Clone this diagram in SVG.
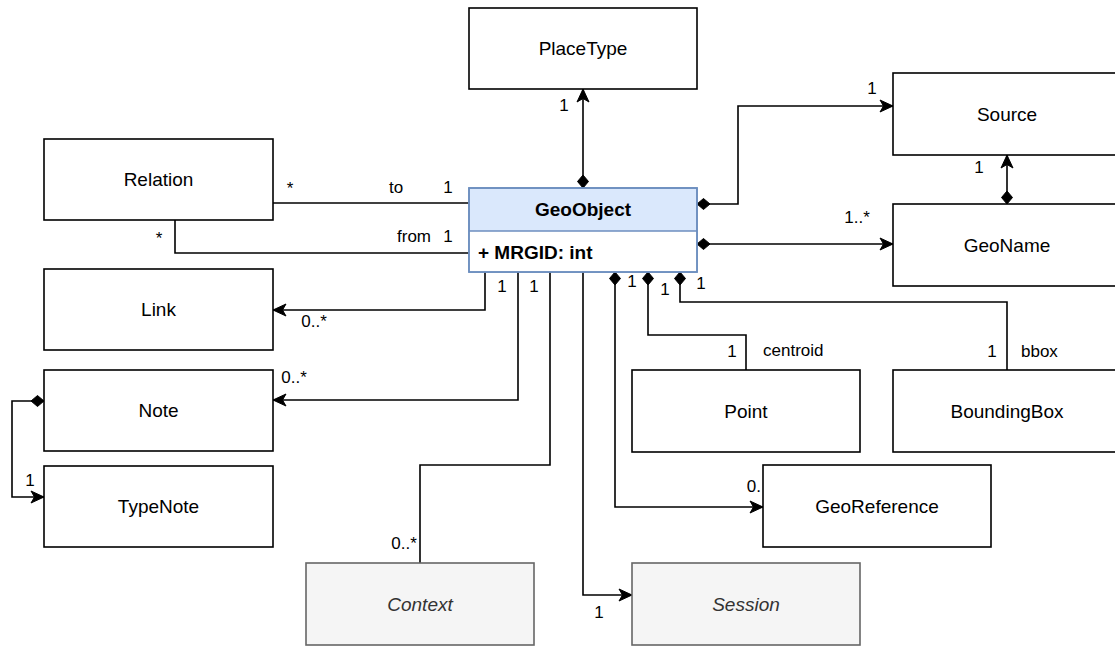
<svg xmlns="http://www.w3.org/2000/svg" width="1115" height="646" viewBox="0 0 1115 646">
<style>
  .box { fill: #ffffff; stroke: #000000; stroke-width: 1.6; }
  .abs { fill: #f5f5f5; stroke: #666666; stroke-width: 1.6; }
  .geo { fill: #dae8fc; stroke: #6c8ebf; stroke-width: 1.6; }
  .lbl { font-family: "Liberation Sans", Arial, sans-serif; font-size: 19px; fill: #000000; text-anchor: middle; }
  .it { font-style: italic; fill: #333333; }
  .bold { font-weight: bold; }
  .edge { fill: none; stroke: #000000; stroke-width: 1.6; }
  .el { font-family: "Liberation Sans", Arial, sans-serif; font-size: 17px; fill: #000000; text-anchor: middle; }
  .start { text-anchor: start; }
  .end { text-anchor: end; }
</style>
<defs>
  <marker id="arrow" markerUnits="userSpaceOnUse" markerWidth="16" markerHeight="16" viewBox="-14 -8 16 16" refX="0" refY="0" orient="auto" overflow="visible">
    <path d="M0,0 L-13,-6 L-9.5,0 L-13,6 Z" fill="#000000" stroke="#000000" stroke-width="1"/>
  </marker>
  <marker id="diamond" markerUnits="userSpaceOnUse" markerWidth="16" markerHeight="16" viewBox="-1 -8 16 16" refX="0" refY="0" orient="auto" overflow="visible">
    <path d="M0,0 L6.5,-5.5 L13,0 L6.5,5.5 Z" fill="#000000" stroke="#000000" stroke-width="1"/>
  </marker>
</defs>

<g id="connectors">
  <path class="edge" d="M583,188 L583,89" marker-start="url(#diamond)" marker-end="url(#arrow)"/>
  <path class="edge" d="M469,203 L273,203"/>
  <path class="edge" d="M469,253 L175,253 L175,220"/>
  <path class="edge" d="M485,272 L485,310 L273,310" marker-end="url(#arrow)"/>
  <path class="edge" d="M518,272 L518,400 L273,400" marker-end="url(#arrow)"/>
  <path class="edge" d="M550,272 L550,465 L420,465 L420,563"/>
  <path class="edge" d="M583,272 L583,595 L632,595" marker-end="url(#arrow)"/>
  <path class="edge" d="M615,272 L615,507 L763,507" marker-start="url(#diamond)" marker-end="url(#arrow)"/>
  <path class="edge" d="M648,272 L648,335 L746,335 L746,370" marker-start="url(#diamond)"/>
  <path class="edge" d="M680,272 L680,302 L1007,302 L1007,370" marker-start="url(#diamond)"/>
  <path class="edge" d="M697,204 L738,204 L738,106 L893,106" marker-start="url(#diamond)" marker-end="url(#arrow)"/>
  <path class="edge" d="M697,244 L893,244" marker-start="url(#diamond)" marker-end="url(#arrow)"/>
  <path class="edge" d="M1007,204 L1007,155" marker-start="url(#diamond)" marker-end="url(#arrow)"/>
  <path class="edge" d="M44,401 L12,401 L12,497 L44,497" marker-start="url(#diamond)" marker-end="url(#arrow)"/>

  <text class="el" x="564" y="111">1</text>
  <text class="el" x="290" y="194">*</text>
  <text class="el" x="396" y="193">to</text>
  <text class="el" x="448" y="193">1</text>
  <text class="el" x="159" y="244">*</text>
  <text class="el" x="414" y="242">from</text>
  <text class="el" x="448" y="242">1</text>
  <text class="el" x="502" y="292">1</text>
  <text class="el" x="314" y="327">0..*</text>
  <text class="el" x="534" y="292">1</text>
  <text class="el" x="294" y="383">0..*</text>
  <text class="el" x="404" y="549">0..*</text>
  <text class="el" x="599" y="618">1</text>
  <text class="el" x="632" y="287">1</text>
  <text class="el" x="665" y="295">1</text>
  <text class="el" x="701" y="289">1</text>
  <text class="el end" x="761" y="492">0.</text>
  <text class="el" x="732" y="357">1</text>
  <text class="el start" x="763" y="356">centroid</text>
  <text class="el" x="992" y="357">1</text>
  <text class="el start" x="1021" y="357">bbox</text>
  <text class="el" x="872" y="94">1</text>
  <text class="el" x="857" y="223">1..*</text>
  <text class="el" x="979" y="173">1</text>
  <text class="el" x="30" y="486">1</text>
</g>

<g id="PlaceType"><rect class="box" x="469" y="8" width="228" height="81"/><text class="lbl" x="583" y="55">PlaceType</text></g>
<g id="GeoObject">
  <rect class="geo" x="469" y="188" width="228" height="84"/>
  <rect x="469.8" y="231" width="226.4" height="40.2" fill="#ffffff"/>
  <line x1="469" y1="231" x2="697" y2="231" stroke="#6c8ebf" stroke-width="1.6"/>
  <rect x="469" y="188" width="228" height="84" fill="none" stroke="#6c8ebf" stroke-width="1.6"/>
  <text class="lbl bold" x="583" y="216">GeoObject</text>
  <text class="lbl bold start" x="478" y="259">+ MRGID: int</text>
</g>
<g id="Relation"><rect class="box" x="44" y="139" width="229" height="81"/><text class="lbl" x="158.5" y="186">Relation</text></g>
<g id="Link"><rect class="box" x="44" y="269" width="229" height="81"/><text class="lbl" x="158.5" y="316">Link</text></g>
<g id="Note"><rect class="box" x="44" y="370" width="229" height="81"/><text class="lbl" x="158.5" y="417">Note</text></g>
<g id="TypeNote"><rect class="box" x="44" y="466" width="229" height="81"/><text class="lbl" x="158.5" y="513">TypeNote</text></g>
<g id="Source"><rect class="box" x="893" y="73" width="228" height="82"/><text class="lbl" x="1007" y="121">Source</text></g>
<g id="GeoName"><rect class="box" x="893" y="204" width="228" height="82"/><text class="lbl" x="1007" y="252">GeoName</text></g>
<g id="Point"><rect class="box" x="632" y="370" width="228" height="82"/><text class="lbl" x="746" y="418">Point</text></g>
<g id="BoundingBox"><rect class="box" x="893" y="370" width="228" height="82"/><text class="lbl" x="1007" y="418">BoundingBox</text></g>
<g id="GeoReference"><rect class="box" x="763" y="465" width="228" height="82"/><text class="lbl" x="877" y="513">GeoReference</text></g>
<g id="Context"><rect class="abs" x="306" y="563" width="228" height="82"/><text class="lbl it" x="420" y="611">Context</text></g>
<g id="Session"><rect class="abs" x="632" y="563" width="228" height="82"/><text class="lbl it" x="746" y="611">Session</text></g>
</svg>
